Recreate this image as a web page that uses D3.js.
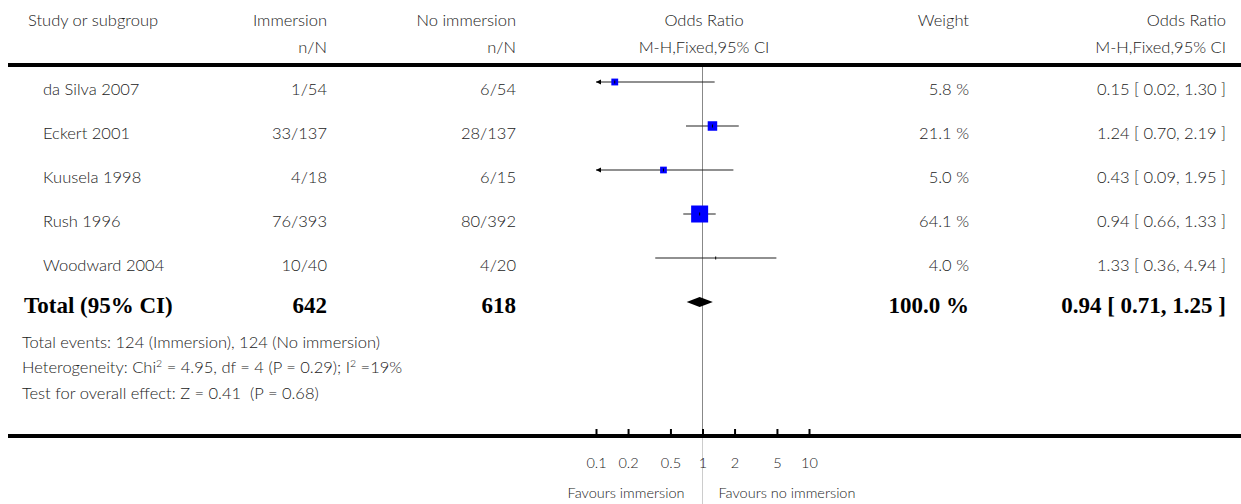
<!DOCTYPE html>
<html>
<head>
<meta charset="utf-8">
<script src="https://cdn.jsdelivr.net/npm/d3@7"></script>
<style>
  html, body { margin: 0; padding: 0; background: #fff; }
  svg text { white-space: pre; }
</style>
</head>
<body>
<svg id="chart" width="1241" height="504"></svg>
<script>
// Study-level data
const studies     = ["da Silva 2007", "Eckert 2001", "Kuusela 1998", "Rush 1996", "Woodward 2004"];
const immersionNN = ["1/54", "33/137", "4/18", "76/393", "10/40"];
const controlNN   = ["6/54", "28/137", "6/15", "80/392", "4/20"];
const oddsRatio   = [0.15, 1.24, 0.43, 0.94, 1.33];
const ciLower     = [0.02, 0.70, 0.09, 0.66, 0.36];
const ciUpper     = [1.30, 2.19, 1.95, 1.33, 4.94];
const weights     = [5.8, 21.1, 5.0, 64.1, 4.0];

// Pooled result
const totalLabel    = "Total (95% CI)";
const totalN        = [642, 618];
const totalOR       = 0.94;
const totalLower    = 0.71;
const totalUpper    = 1.25;
const totalWeight   = 100.0;

// Axis
const tickValues = [0.1, 0.2, 0.5, 1, 2, 5, 10];
const tickLabels = ["0.1", "0.2", "0.5", "1", "2", "5", "10"];

const footnotes = [
  [{t: "Total events: 124 (Immersion), 124 (No immersion)"}],
  [{t: "Heterogeneity: Chi"}, {t: "2", sup: true}, {t: " = 4.95, df = 4 (P = 0.29); I"}, {t: "2", sup: true}, {t: " =19%"}],
  [{t: "Test for overall effect: Z = 0.41  (P = 0.68)"}]
];

const svg = d3.select("#chart");
const REG = "Lato, 'Open Sans', sans-serif";
const BOLD = "'Liberation Serif', 'Times New Roman', serif";
const TXT = "#222";
const WEIGHT_REG = 300;
const FS = 16.5;     // table text
const FS_AX = 14.5;  // axis text
const FS_B = 23;     // pooled row

const x = d3.scaleLog().domain([0.1, 10]).range([596, 809]);
const rowY = d3.scalePoint().domain(d3.range(studies.length + 1)).range([82, 302]);
const sq = d3.scaleLinear().domain([4.0, 5.0, 64.1]).range([0, 6.7, 17]).clamp(true);

const col = { studyHead: 28, study: 43, total: 24, note: 22, imm: 327, ctrl: 516, plotHead: 704, weight: 969, ci: 1226 };

function txt(xp, yp, s, anchor, opts = {}) {
  return svg.append("text")
    .attr("x", xp).attr("y", yp)
    .attr("text-anchor", anchor || "start")
    .attr("font-family", opts.bold ? BOLD : REG)
    .attr("font-weight", opts.bold ? "bold" : WEIGHT_REG)
    .attr("font-size", opts.size || FS)
    .attr("fill", opts.bold ? "#000" : TXT)
    .text(s);
}

// Header
txt(col.studyHead, 26, "Study or subgroup");
txt(col.imm, 26, "Immersion", "end");
txt(col.ctrl, 26, "No immersion", "end");
txt(col.plotHead, 26, "Odds Ratio", "middle");
txt(col.weight, 26, "Weight", "end");
txt(col.ci, 26, "Odds Ratio", "end");
txt(col.imm, 53, "n/N", "end");
txt(col.ctrl, 53, "n/N", "end");
txt(col.plotHead, 53, "M-H,Fixed,95% CI", "middle");
txt(col.ci, 53, "M-H,Fixed,95% CI", "end");

// Rules
svg.append("rect").attr("x", 8).attr("y", 63).attr("width", 1233).attr("height", 4).attr("fill", "#000");
svg.append("rect").attr("x", 8).attr("y", 434).attr("width", 1233).attr("height", 4).attr("fill", "#000");

// Line of no effect
svg.append("line").attr("x1", x(1)).attr("x2", x(1)).attr("y1", 67).attr("y2", 434)
  .attr("stroke", "#888").attr("stroke-width", 1);
svg.append("line").attr("x1", x(1)).attr("x2", x(1)).attr("y1", 438).attr("y2", 504)
  .attr("stroke", "#ccc").attr("stroke-width", 1);

const fmt2 = d3.format(".2f");
const [dMin, dMax] = x.domain();

// Study rows
studies.forEach((name, i) => {
  const y = rowY(i);
  const ty = y + 13;
  txt(col.study, ty, name);
  txt(col.imm, ty, immersionNN[i], "end");
  txt(col.ctrl, ty, controlNN[i], "end");
  txt(col.weight, ty, weights[i].toFixed(1) + " %", "end");
  txt(col.ci, ty, `${fmt2(oddsRatio[i])} [ ${fmt2(ciLower[i])}, ${fmt2(ciUpper[i])} ]`, "end");

  const lo = Math.max(ciLower[i], dMin), hi = Math.min(ciUpper[i], dMax);
  svg.append("line").attr("x1", x(lo)).attr("x2", x(hi)).attr("y1", y).attr("y2", y)
    .attr("stroke", "#222").attr("stroke-width", 1.2);
  if (ciLower[i] < dMin) {
    const ax = x(dMin);
    svg.append("path").attr("d", `M${ax},${y} l5,-2.5 l0,5 z`).attr("fill", "#000");
  }
  if (ciUpper[i] > dMax) {
    const ax = x(dMax);
    svg.append("path").attr("d", `M${ax},${y} l-5,-2.5 l0,5 z`).attr("fill", "#000");
  }
  const s = sq(weights[i]);
  if (s > 0) {
    svg.append("rect").attr("x", x(oddsRatio[i]) - s / 2).attr("y", y - s / 2)
      .attr("width", s).attr("height", s).attr("fill", "#0000ff");
  }
  svg.append("line").attr("x1", x(oddsRatio[i])).attr("x2", x(oddsRatio[i]))
    .attr("y1", y - 1.5).attr("y2", y + 1.5).attr("stroke", "#000").attr("stroke-width", 1);
});

// Total row
const yT = rowY(studies.length);
const tyT = yT + 11;
txt(col.total, tyT, totalLabel, "start", {bold: true, size: FS_B});
txt(col.imm, tyT, String(totalN[0]), "end", {bold: true, size: FS_B});
txt(col.ctrl, tyT, String(totalN[1]), "end", {bold: true, size: FS_B});
txt(col.weight, tyT, totalWeight.toFixed(1) + " %", "end", {bold: true, size: FS_B});
txt(col.ci, tyT, `${fmt2(totalOR)} [ ${fmt2(totalLower)}, ${fmt2(totalUpper)} ]`, "end", {bold: true, size: FS_B});
svg.append("path")
  .attr("d", `M${x(totalLower)},${yT} L${x(totalOR)},${yT - 5} L${x(totalUpper)},${yT} L${x(totalOR)},${yT + 5} Z`)
  .attr("fill", "#000");

// Footnotes
const noteY = [348, 373, 399];
footnotes.forEach((parts, i) => {
  const t = svg.append("text").attr("x", col.note).attr("y", noteY[i])
    .attr("font-family", REG).attr("font-weight", WEIGHT_REG).attr("font-size", FS).attr("fill", TXT);
  parts.forEach((p, j) => {
    const prev = j > 0 ? parts[j - 1] : null;
    const dy = p.sup ? -6 : (prev && prev.sup ? 6 : 0);
    t.append("tspan").attr("font-size", p.sup ? 10.5 : FS).attr("dy", dy).text(p.t);
  });
});

// Axis: ticks above the rule, labels below
const axis = d3.axisBottom(x)
  .tickValues(tickValues)
  .tickFormat((d, i) => tickLabels[i])
  .tickSizeInner(-5)
  .tickSizeOuter(0)
  .tickPadding(24);
const gAxis = svg.append("g").attr("transform", "translate(0,434)").call(axis);
gAxis.select(".domain").remove();
gAxis.selectAll(".tick line").attr("stroke", "#000").attr("stroke-width", 2);
gAxis.selectAll(".tick text").attr("font-family", REG).attr("font-weight", WEIGHT_REG)
  .attr("font-size", FS_AX).attr("fill", TXT);

txt(x(1) - 18, 498, "Favours immersion", "end", {size: FS_AX});
txt(x(1) + 16, 498, "Favours no immersion", "start", {size: FS_AX});
</script>
</body>
</html>
